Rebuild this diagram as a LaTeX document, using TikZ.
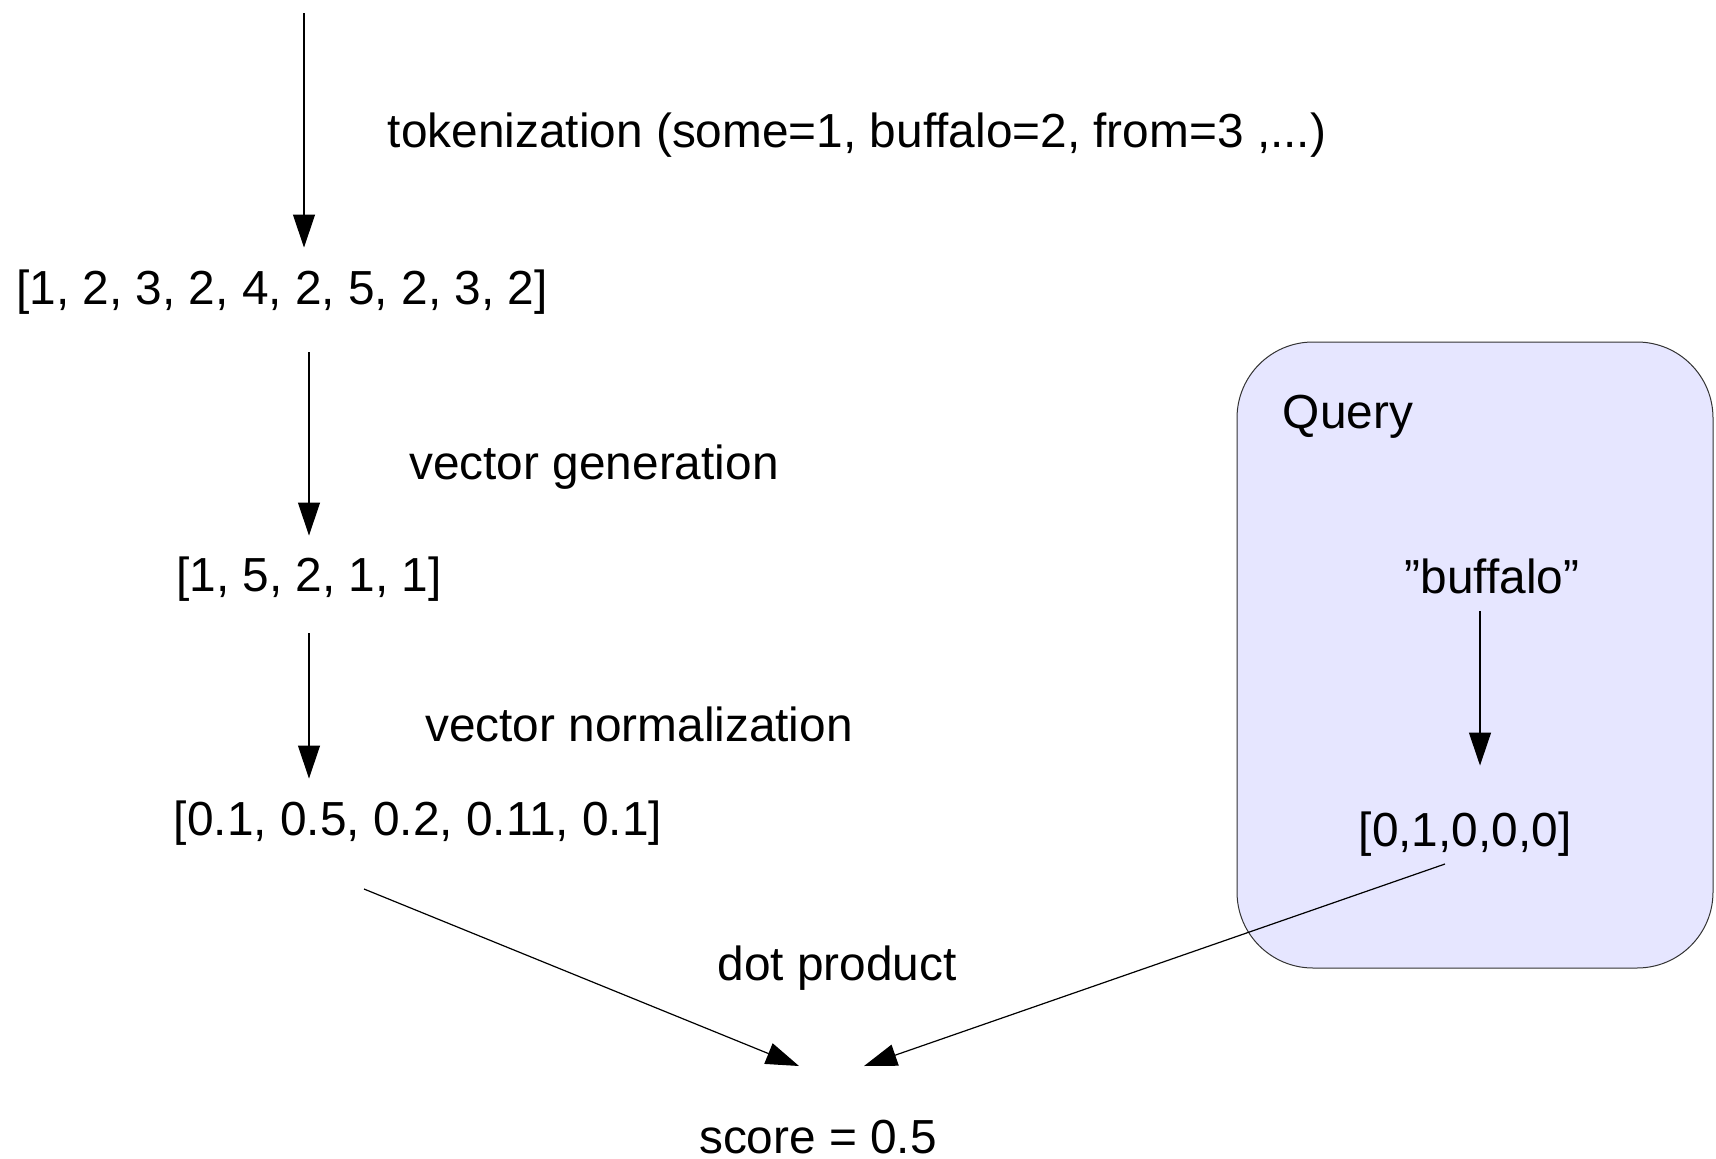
\documentclass[tikz,border=0pt]{standalone}
\usepackage{fontspec}
\setmainfont{Liberation Sans}
\usetikzlibrary{arrows.meta}
\definecolor{querylilac}{RGB}{230,230,255}

\begin{document}
\begin{tikzpicture}[x=1pt, y=-1pt,
  vectext/.style={inner sep=0pt, font=\fontsize{47.8}{57}\selectfont},
  querybox/.style={draw=black!80, line width=1pt, fill=querylilac,
    rounded corners=76pt, minimum width=476pt, minimum height=626pt},
  flowarrow/.style={-{Triangle[length=33pt, width=22pt]}, line width=1.2pt}
]
\useasboundingbox (0,0) rectangle (1716,1159);
\node[querybox] (query) at (1475,655) {};
\node[vectext] (tok) at (857,135) {tokenization (some=1, buffalo=2, from=3 ,...)};
\node[vectext] (seq) at (282,292) {[1, 2, 3, 2, 4, 2, 5, 2, 3, 2]};
\node[vectext] (gen) at (594,467) {vector generation};
\node[vectext] (counts) at (309,579) {[1, 5, 2, 1, 1]};
\node[vectext] (norm) at (639,724) {vector normalization};
\node[vectext] (normvec) at (418,823) {[0.1, 0.5, 0.2, 0.11, 0.1]};
\node[vectext] (dot) at (837,968) {dot product};
\node[vectext] (score) at (818,1137) {score = 0.5};
\node[vectext] (qtitle) at (1348,417) {Query};
\node[vectext] (term) at (1492,576) {”buffalo”};
\node[vectext] (qvec) at (1465,834) {[0,1,0,0,0]};
\coordinate (src) at (304,13);
\coordinate (dotL) at (364,889);
\coordinate (dotR) at (1445,864);
\coordinate (meetL) at (799,1066);
\coordinate (meetR) at (864,1066);
\draw[flowarrow, shorten >=22pt] (src) -- (src |- seq.north);
\draw[flowarrow, shorten <=38pt, shorten >=21pt] (seq.south -| counts) -- (counts.north);
\draw[flowarrow, shorten <=32pt, shorten >=22pt] (counts.south) -- (counts.south |- normvec.north);
\draw[flowarrow, shorten <=17pt, shorten >=46pt] ([xshift=-12pt]term.south) -- ([xshift=15pt]qvec.north);
\draw[flowarrow] (dotL) -- (meetL);
\draw[flowarrow] (dotR) -- (meetR);
\end{tikzpicture}
\end{document}
